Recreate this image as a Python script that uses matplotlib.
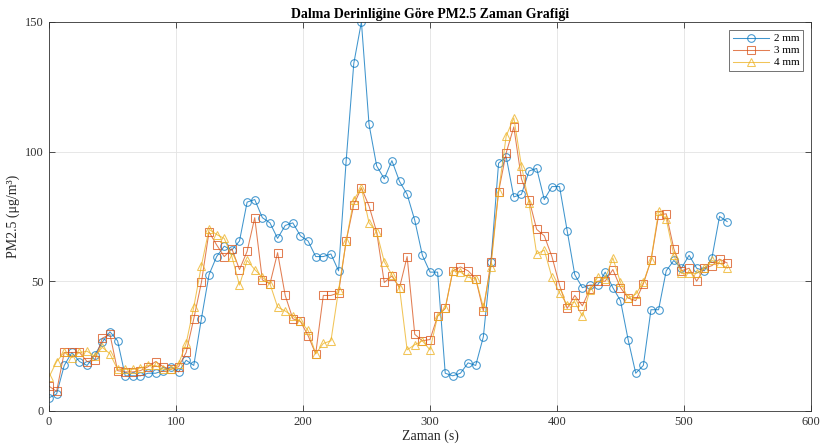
import matplotlib
matplotlib.use("Agg")
import matplotlib.pyplot as plt

time_s = [0, 6, 12, 18, 24, 30, 36, 42, 48, 54, 60, 66, 72, 78, 84, 90, 96, 102, 108, 114,
          120, 126, 132, 138, 144, 150, 156, 162, 168, 174, 180, 186, 192, 198, 204, 210, 216, 222, 228, 234,
          240, 246, 252, 258, 264, 270, 276, 282, 288, 294, 300, 306, 312, 318, 324, 330, 336, 342, 348, 354,
          360, 366, 372, 378, 384, 390, 396, 402, 408, 414, 420, 426, 432, 438, 444, 450, 456, 462, 468, 474,
          480, 486, 492, 498, 504, 510, 516, 522, 528, 534]

pm_2mm = [5, 6.5, 17.5, 22.5, 19, 17.5, 21.5, 26.5, 30.5, 27,
          13.5, 13.5, 13.5, 14.5, 14.5, 15.5, 17, 15, 19.5, 17.5,
          35.5, 52.5, 59.5, 63.5, 62, 65.5, 80.5, 81.5, 74.5, 72.5,
          66.5, 71.5, 72.5, 67.5, 65.5, 59.5, 59.5, 60.5, 54, 96.5,
          134, 150, 110.5, 94.5, 89.5, 96.5, 88.5, 83.5, 73.5, 60,
          53.5, 53.5, 14.5, 13.5, 14.5, 18.5, 17.5, 28.5, 57.5, 95.5,
          98, 82.5, 83.5, 92.5, 93.5, 81.5, 86.5, 86.5, 69.5, 52.5,
          47.5, 48.5, 48.5, 53.5, 47.5, 42.5, 27.5, 14.5, 17.5, 39,
          39, 54, 58, 55, 60, 55, 54, 59, 75, 73]

pm_3mm = [9.5, 7.5, 22.5, 22.5, 22.5, 19, 19.5, 28, 29.5, 15.5,
          15, 15, 15.5, 17, 19, 17, 16, 17, 22.5, 35.5,
          49.5, 69, 64, 59.5, 62.5, 54.5, 61.5, 74.5, 50.5, 49,
          61, 44.5, 35.5, 34.5, 29, 22, 44.5, 44.5, 45.5, 65.5,
          79.5, 86, 79, 69, 49.5, 52, 47.5, 59.5, 29.5, 27,
          27.5, 36.5, 39.5, 54, 55.5, 54, 51, 38.5, 57.5, 84.5,
          99.5, 109.5, 89.5, 81.5, 70, 67.5, 59.5, 48.5, 39.5, 44.5,
          40.5, 47, 50, 50, 54.5, 47.5, 43.5, 42.5, 49, 58,
          75.5, 76, 62.5, 54, 55, 50, 55, 56, 58.5, 57]

pm_4mm = [13, 19, 22.5, 20.5, 22.5, 23, 21, 24.5, 22, 16,
          16, 16, 16.5, 17.5, 17.5, 16, 16, 18, 26, 40,
          56, 70, 68, 66.5, 59.5, 48.5, 58, 54.5, 51.5, 49,
          40, 38.5, 36.5, 34.5, 31, 22, 26, 27, 46.5, 65.5,
          81.5, 86, 72.5, 69, 57.5, 52.5, 47.5, 23.5, 25.5, 27,
          23.5, 36.5, 39.5, 54, 53.5, 51.5, 51, 40, 55.5, 84.5,
          106, 113, 94.5, 80, 60.5, 62, 51.5, 45.5, 41, 42,
          36.5, 46.5, 51.5, 51, 59, 49.5, 43.5, 45, 49.5, 58,
          77, 74, 60, 53, 53, 53, 55, 58, 57, 55]

series_labels = ["2 mm", "3 mm", "4 mm"]
x_ticks = [0, 100, 200, 300, 400, 500, 600]
y_ticks = [0, 50, 100, 150]

plt.rcParams['font.family'] = ['Liberation Serif', 'DejaVu Serif']

fig = plt.figure(figsize=(8.22, 4.48), dpi=100)
ax = fig.add_axes([0.0596, 0.083, 0.9270, 0.868])

colors = ['#0072BD', '#D95319', '#EDB120']
markers = ['o', 's', '^']
for ys, lab, c, m in zip([pm_2mm, pm_3mm, pm_4mm], series_labels, colors, markers):
    ax.plot(time_s, ys, color=c, marker=m, markerfacecolor='none', markeredgecolor=c,
            markersize=5.5, linewidth=0.75, markeredgewidth=0.75, label=lab, alpha=0.75)

ax.set_xlim(0, 600)
ax.set_ylim(0, 150)
ax.set_xticks(x_ticks)
ax.set_yticks(y_ticks)
ax.grid(True, color='#e3e3e3', linewidth=0.6)
ax.set_axisbelow(True)
ax.tick_params(direction='in', top=True, right=True, labelsize=9, colors='#333333', length=4, width=0.6)
for s in ax.spines.values():
    s.set_color('#333333')
    s.set_linewidth(0.6)

ax.set_title('Dalma Derinliğine Göre PM2.5 Zaman Grafiği', fontsize=10, fontweight='bold', pad=3)
ax.set_xlabel('Zaman (s)', fontsize=10, labelpad=1, color='#262626')
ax.set_ylabel('PM2.5 (μg/m³)', fontsize=10, labelpad=4, color='#262626')

leg = ax.legend(loc='upper right', fontsize=8, frameon=True, fancybox=False, handlelength=3.3,
                borderpad=0.35, labelspacing=0.2, handletextpad=0.4, borderaxespad=0.7)
leg.get_frame().set_edgecolor('#333333')
leg.get_frame().set_linewidth(0.6)

fig.savefig('out.png', dpi=100)
